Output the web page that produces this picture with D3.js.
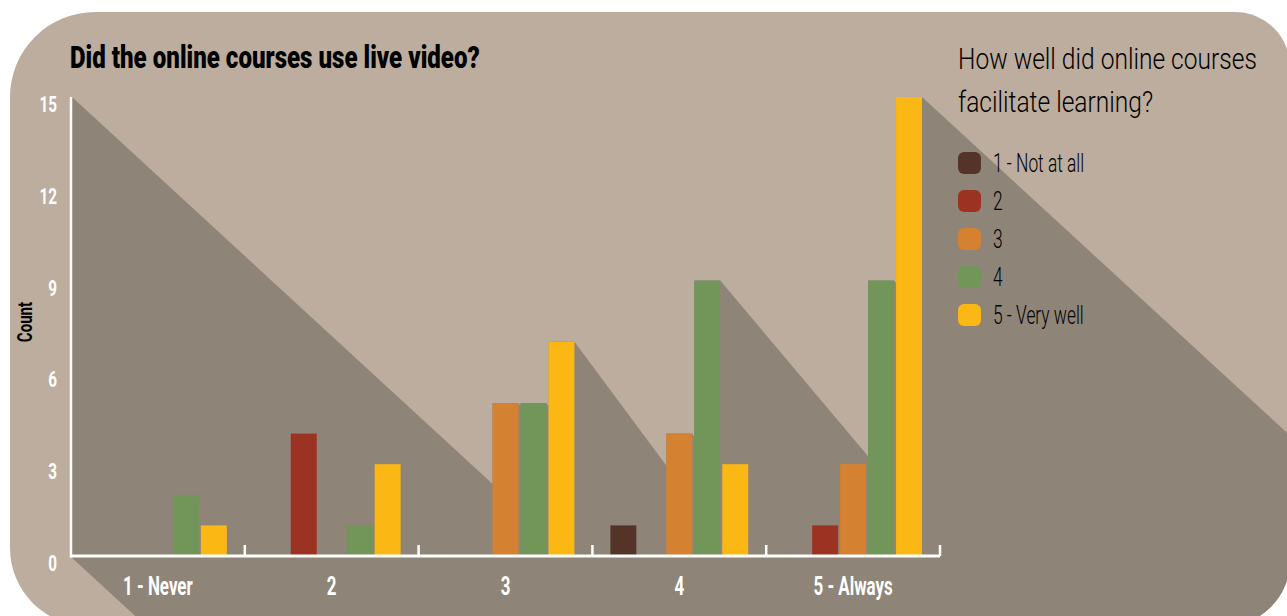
<!DOCTYPE html>
<html>
<head>
<meta charset="utf-8">
<script src="https://cdn.jsdelivr.net/npm/d3@7/dist/d3.min.js"></script>
<style>
  html, body { margin: 0; padding: 0; background: #ffffff; }
  svg { display: block; }
</style>
</head>
<body>
<svg id="chart" width="1287" height="616"></svg>
<script>
// ---------- data ----------
const groups = ["1 - Never", "2", "3", "4", "5 - Always"];
const seriesNames = ["1 - Not at all", "2", "3", "4", "5 - Very well"];
const notAtAll = [0, 0, 0, 1, 0];
const rating2  = [0, 4, 0, 0, 1];
const rating3  = [0, 0, 5, 4, 3];
const rating4  = [2, 1, 5, 9, 9];
const veryWell = [1, 3, 7, 3, 15];
const yTicks = [0, 3, 6, 9, 12, 15];
const seriesColors = ["#543429", "#9C3322", "#D48231", "#72965A", "#FBB814"];
const chartTitle = "Did the online courses use live video?";
const legendTitle = ["How well did online courses", "facilitate learning?"];
const yLabel = "Count";

// ---------- setup ----------
const svg = d3.select("#chart");
const LIGHT = "#BCAD9E", SHADOW = "#8F8478";
const boldFont = "Roboto, 'Liberation Sans', 'DejaVu Sans', sans-serif";
const lightFont = "Roboto, 'Open Sans', 'Liberation Sans', sans-serif";

const seriesValues = [notAtAll, rating2, rating3, rating4, veryWell];
const data = groups.map((g, gi) => ({
  group: g,
  vals: seriesNames.map((s, si) => ({ series: s, si, value: seriesValues[si][gi] }))
}));

const plot = { left: 71, right: 940, top: 97, bottom: 556 };
const x0 = d3.scaleBand().domain(groups).range([plot.left, plot.right]).padding(0);
const x1 = d3.scaleBand().domain(seriesNames).range([0, x0.bandwidth()])
  .paddingInner(0.0714).paddingOuter(0.643);
const yMax = 15;
const y = d3.scaleLinear().domain([0, yMax]).range([plot.bottom, plot.top]);
const color = d3.scaleOrdinal().domain(seriesNames).range(seriesColors);

// ---------- background shape ----------
function roundedPath(l, t, r, b, tl, tr, br, bl) {
  return `M${l + tl},${t} L${r - tr},${t} A${tr},${tr} 0 0 1 ${r},${t + tr}` +
    ` L${r},${b - br} A${br},${br} 0 0 1 ${r - br},${b}` +
    ` L${l + bl},${b} A${bl},${bl} 0 0 1 ${l},${b - bl}` +
    ` L${l},${t + tl} A${tl},${tl} 0 0 1 ${l + tl},${t} Z`;
}
const bgPath = roundedPath(10, 12, 1290, 626, 85, 55, 65, 78);
const defs = svg.append("defs");
defs.append("clipPath").attr("id", "bgclip").append("path").attr("d", bgPath);
svg.append("path").attr("d", bgPath).attr("fill", LIGHT);

// ---------- long shadows ----------
const shadowG = svg.append("g").attr("clip-path", "url(#bgclip)");
const L = 2500;
const slopeFor = v => 0.92 * Math.sqrt(yMax / v);
function sweep(xa, xb, yt, yb, s) {
  return [[xa, yt], [xb, yt], [xb + L, yt + s * L], [xb + L, yb + s * L], [xa + L, yb + s * L], [xa, yb]];
}
const shadowPolys = [];
shadowPolys.push(sweep(plot.left - 1, plot.left + 1, y(yMax), y(0), slopeFor(yMax)));
const bs = 0.63;
shadowPolys.push([[plot.left, y(0)], [plot.right, y(0)], [plot.right + L, y(0) + bs * L], [plot.left + L, y(0) + bs * L]]);
data.forEach(d => d.vals.forEach(v => {
  if (v.value <= 0) return;
  const xa = x0(d.group) + x1(v.series), xb = xa + x1.bandwidth();
  shadowPolys.push(sweep(xa, xb, y(v.value), y(0), slopeFor(v.value)));
}));
shadowG.selectAll("path").data(shadowPolys).join("path")
  .attr("d", p => "M" + p.map(q => q.join(",")).join("L") + "Z")
  .attr("fill", SHADOW);

// ---------- bars ----------
const gGroups = svg.append("g").selectAll("g").data(data).join("g")
  .attr("transform", d => `translate(${x0(d.group)},0)`);
gGroups.selectAll("rect").data(d => d.vals.filter(v => v.value > 0)).join("rect")
  .attr("x", v => x1(v.series))
  .attr("width", x1.bandwidth())
  .attr("y", v => y(v.value))
  .attr("height", v => y(0) - y(v.value))
  .attr("fill", v => color(v.series));

// ---------- axes ----------
const axisG = svg.append("g").attr("stroke", "#ffffff").attr("fill", "none");
axisG.append("line").attr("x1", plot.left).attr("x2", plot.left)
  .attr("y1", y(yMax)).attr("y2", y(0) + 1.5).attr("stroke-width", 2.5);
axisG.append("line").attr("x1", plot.left - 1).attr("x2", plot.right)
  .attr("y1", y(0)).attr("y2", y(0)).attr("stroke-width", 3);
axisG.selectAll("line.tick").data(groups).join("line").attr("class", "tick")
  .attr("x1", g => x0(g) + x0.bandwidth()).attr("x2", g => x0(g) + x0.bandwidth())
  .attr("y1", y(0)).attr("y2", y(0) - 11).attr("stroke-width", 2.5);

// horizontal condensing around each text's anchor x
function squeeze(sel, f) {
  sel.each(function () {
    const x = +this.getAttribute("x") || 0;
    d3.select(this).attr("transform", `translate(${x * (1 - f)},0) scale(${f},1)`);
  });
}

// title
const title = svg.append("text").attr("x", 70).attr("y", 68)
  .attr("font-family", boldFont).attr("font-weight", 900).attr("font-size", 32)
  .attr("fill", "#000").text(chartTitle);
const boldF = 410 / title.node().getComputedTextLength();
squeeze(title, boldF);

// y tick labels
const yt = svg.append("g").selectAll("text").data(yTicks).join("text")
  .attr("x", 57).attr("y", d => y(d) + 15).attr("text-anchor", "end")
  .attr("font-family", boldFont).attr("font-weight", 700).attr("font-size", 22)
  .attr("fill", "#fff").text(d => d);
squeeze(yt, boldF * 0.92);

// x labels
const xl = svg.append("g").selectAll("text").data(groups).join("text")
  .attr("x", g => x0(g) + x0.bandwidth() / 2).attr("y", 595).attr("text-anchor", "middle")
  .attr("font-family", boldFont).attr("font-weight", 700).attr("font-size", 25)
  .attr("fill", "#fff").text(g => g);
squeeze(xl, boldF * 0.9);

// y axis label
svg.append("text").attr("transform", `translate(32,322) rotate(-90) scale(${boldF},1)`)
  .attr("text-anchor", "middle")
  .attr("font-family", boldFont).attr("font-weight", 700).attr("font-size", 20)
  .attr("fill", "#000").text(yLabel);

// legend
const lt = svg.append("g").selectAll("text").data(legendTitle).join("text")
  .attr("x", 958).attr("y", (d, i) => 69 + i * 43)
  .attr("font-family", lightFont).attr("font-weight", 300).attr("font-size", 29)
  .attr("fill", "#000").text(d => d);
const lightF = 299 / lt.filter((d, i) => i === 0).node().getComputedTextLength();
squeeze(lt, lightF);

const legendY = d3.scalePoint().domain(seriesNames).range([163, 315]);
const li = svg.append("g").selectAll("g").data(seriesNames).join("g")
  .attr("transform", s => `translate(958,${legendY(s)})`);
li.append("rect").attr("x", 0).attr("y", -11).attr("width", 23).attr("height", 22)
  .attr("rx", 6).attr("fill", s => color(s));
const ltx = li.append("text").attr("x", 35).attr("y", 9)
  .attr("font-family", lightFont).attr("font-weight", 300).attr("font-size", 25)
  .attr("fill", "#000").text(s => s);
squeeze(ltx, lightF * 0.82);
</script>
</body>
</html>
